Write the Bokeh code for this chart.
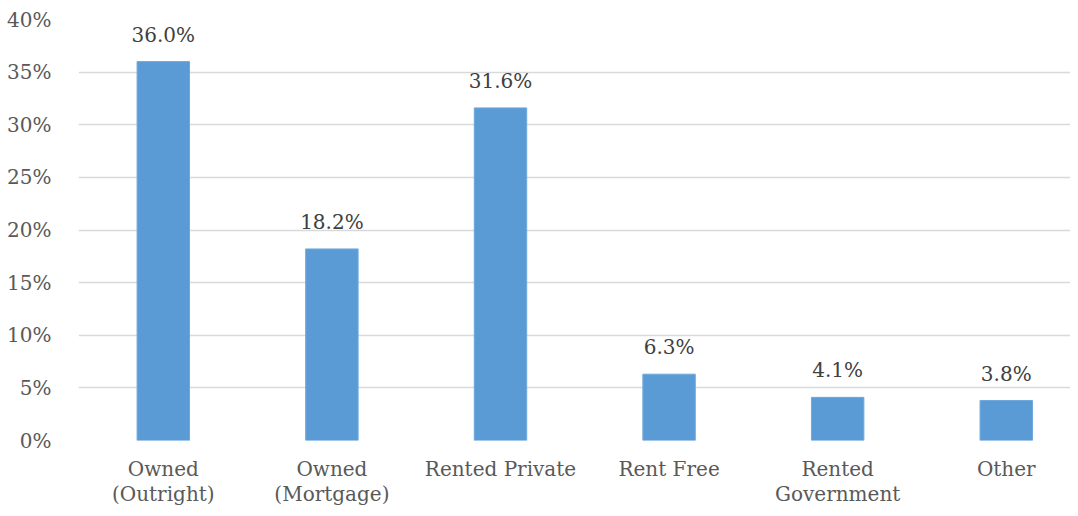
from bokeh.plotting import figure
from bokeh.models import Range1d, FixedTicker, ColumnDataSource
from bokeh.embed import file_html
from bokeh.resources import INLINE
from bokeh.core.properties import value

categories = ["Owned\n(Outright)", "Owned\n(Mortgage)", "Rented Private", "Rent Free", "Rented\nGovernment", "Other"]
values = [36.0, 18.2, 31.6, 6.3, 4.1, 3.8]
y_ticks = [0, 5, 10, 15, 20, 25, 30, 35, 40]

FONT = "DejaVu Serif"
TXT = "#595959"
FS = "20px"

xs = list(range(len(categories)))
src = ColumnDataSource(dict(x=xs, top=values, label=[f"{v:.1f}%" for v in values]))

p = figure(width=1070, height=508, output_backend="svg", toolbar_location=None,
           x_range=Range1d(-0.503, 5.381), y_range=Range1d(0, 40),
           min_border_left=78, min_border_right=0, min_border_top=19, min_border_bottom=68)
p.outline_line_color = None
p.background_fill_color = "white"
p.border_fill_color = "white"

p.vbar(x="x", top="top", width=0.311, source=src, fill_color="#5b9bd5", line_color="#6fa8dc", line_width=1)
p.text(x="x", y="top", text="label", source=src, text_align="center", text_baseline="alphabetic",
       y_offset=-27, text_font=value(FONT), text_font_size=FS, text_color="#404040")

p.xaxis.ticker = FixedTicker(ticks=xs)
p.xaxis.major_label_overrides = {i: c for i, c in enumerate(categories)}
p.xaxis.axis_line_color = None
p.xaxis.major_tick_line_color = None
p.xaxis.minor_tick_line_color = None
p.xaxis.major_label_standoff = 10
p.xaxis.major_label_text_font = FONT
p.xaxis.major_label_text_font_size = FS
p.xaxis.major_label_text_line_height = 1.05
p.xaxis.major_label_text_color = TXT
p.xgrid.grid_line_color = None

p.yaxis.ticker = FixedTicker(ticks=y_ticks)
p.yaxis.major_label_overrides = {t: f"{t}%" for t in y_ticks}
p.yaxis.axis_line_color = None
p.yaxis.major_tick_line_color = None
p.yaxis.minor_tick_line_color = None
p.yaxis.major_label_standoff = 21
p.yaxis.major_label_text_font = FONT
p.yaxis.major_label_text_font_size = FS
p.yaxis.major_label_text_color = TXT
p.ygrid.grid_line_color = "#d9d9d9"
p.ygrid.grid_line_width = 1.5
p.ygrid.level = "underlay"

open("out.html", "w").write(file_html(p, INLINE))
